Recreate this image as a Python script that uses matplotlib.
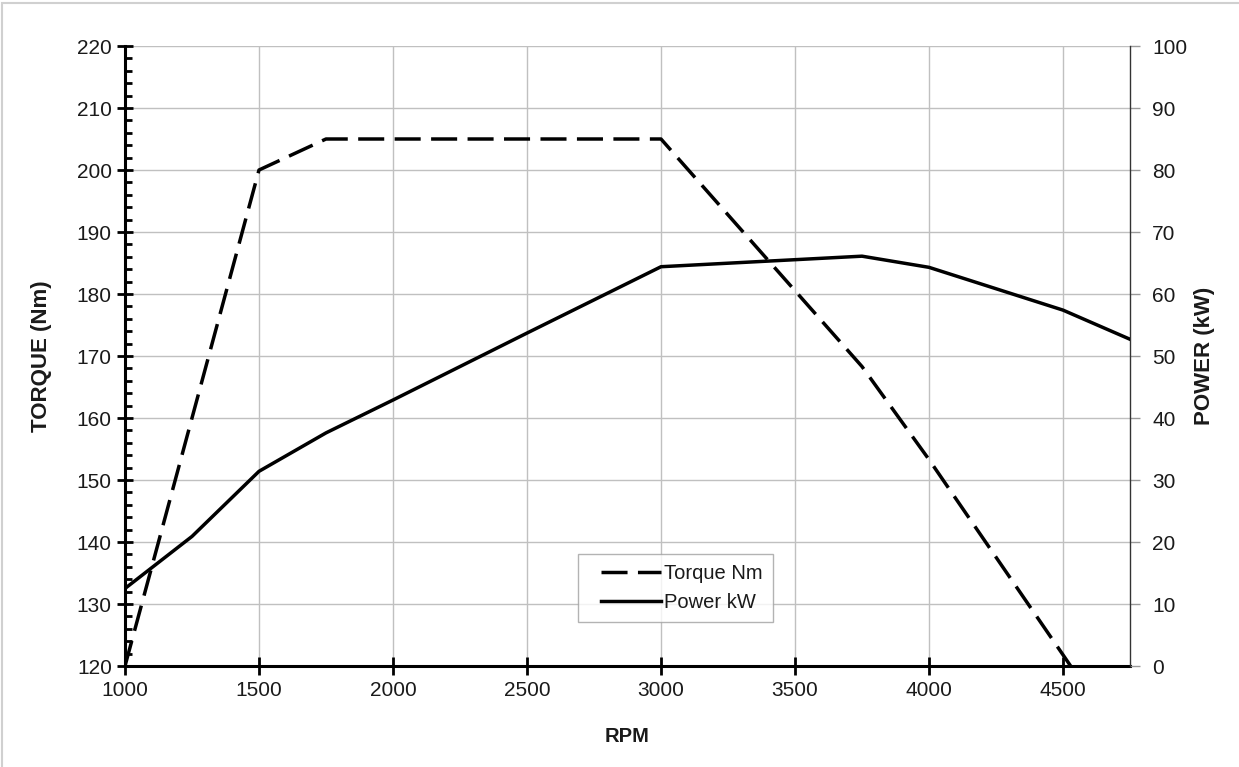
import numpy as np
import matplotlib.pyplot as plt
from matplotlib.ticker import MultipleLocator
from matplotlib.patches import Rectangle
from matplotlib.legend_handler import HandlerLine2D

plt.rcParams['font.family'] = ['Liberation Sans', 'DejaVu Sans']

# engine curves
rpm_torque = [1000, 1500, 1750, 3000, 3750, 4000, 4500, 4750]
torque_nm = [120, 200, 205, 205, 168.3, 153.3, 121.8, 106]

rpm_power = [1000, 1250, 1500, 1750, 2000, 2500, 3000, 3750, 4000, 4500, 4750]
power_kw = [12.5, 20.9, 31.4, 37.6, 42.9, 53.7, 64.4, 66.1, 64.3, 57.4, 52.7]

txt = '#1a1a1a'
fs = 15

fig = plt.figure(figsize=(12.39, 7.67), dpi=100)
ax = fig.add_axes([125/1239, 1 - 666/767, 1005/1239, 620/767])
ax2 = ax.twinx()

l1, = ax.plot(rpm_torque, torque_nm, color='black', lw=2.5,
              linestyle=(0, (7.5, 3)), label='Torque Nm', zorder=3)
l2, = ax2.plot(rpm_power, power_kw, color='black', lw=2.5,
               label='Power kW', zorder=3)

ax.set_xlim(1000, 4750)
ax.set_ylim(120, 220)
ax2.set_ylim(0, 100)

ax.xaxis.set_major_locator(MultipleLocator(500))
ax.yaxis.set_major_locator(MultipleLocator(10))
ax.yaxis.set_minor_locator(MultipleLocator(2))
ax2.yaxis.set_major_locator(MultipleLocator(10))

ax.grid(True, which='major', color='#c0c0c0', lw=1.0)
ax.set_axisbelow(True)

ax.spines['top'].set_visible(False)
ax2.spines['top'].set_visible(False)
ax2.spines['left'].set_visible(False)
ax2.spines['bottom'].set_visible(False)
ax.spines['right'].set_visible(False)
ax.spines['left'].set_linewidth(2.2)
ax.spines['bottom'].set_linewidth(2.2)
ax2.spines['right'].set_linewidth(1.0)
ax2.spines['right'].set_color('#333333')

ax.tick_params(axis='y', which='major', direction='inout', length=11, width=2,
               labelsize=fs, labelcolor=txt, pad=4)
ax.tick_params(axis='y', which='minor', direction='in', length=5, width=2)
ax.tick_params(axis='x', which='major', direction='inout', length=13, width=2,
               labelsize=fs, labelcolor=txt, pad=4)
ax2.tick_params(axis='y', direction='out', length=7, width=1, color='#999999',
                labelsize=fs, labelcolor=txt, pad=9)

ax.set_xlabel('RPM', fontsize=14.5, fontweight='bold', color=txt, labelpad=20)
ax.set_ylabel('TORQUE (Nm)', fontsize=16, fontweight='bold', color=txt, labelpad=18)
ax2.set_ylabel('POWER (kW)', fontsize=16, fontweight='bold', color=txt, labelpad=5)

hm = {l1: HandlerLine2D(xpad=0.62), l2: HandlerLine2D(xpad=0.62)}
leg = ax.legend(handles=[l1, l2], loc='lower left', bbox_to_anchor=(0.451, 0.071),
                fontsize=14.5, frameon=True, fancybox=False, handlelength=3.6,
                borderpad=0.5, labelspacing=0.5, handletextpad=0.15,
                borderaxespad=0, handler_map=hm)
leg.get_frame().set_edgecolor('#a0a0a0')
leg.get_frame().set_linewidth(1.0)
for t in leg.get_texts():
    t.set_color(txt)

# faint page border on top and left
fig.patches.append(Rectangle((0.002, -0.01), 1.1, 1.006, transform=fig.transFigure,
                             fill=False, edgecolor='#d0d0d0', lw=1.5))

fig.savefig('out.png', dpi=100)
